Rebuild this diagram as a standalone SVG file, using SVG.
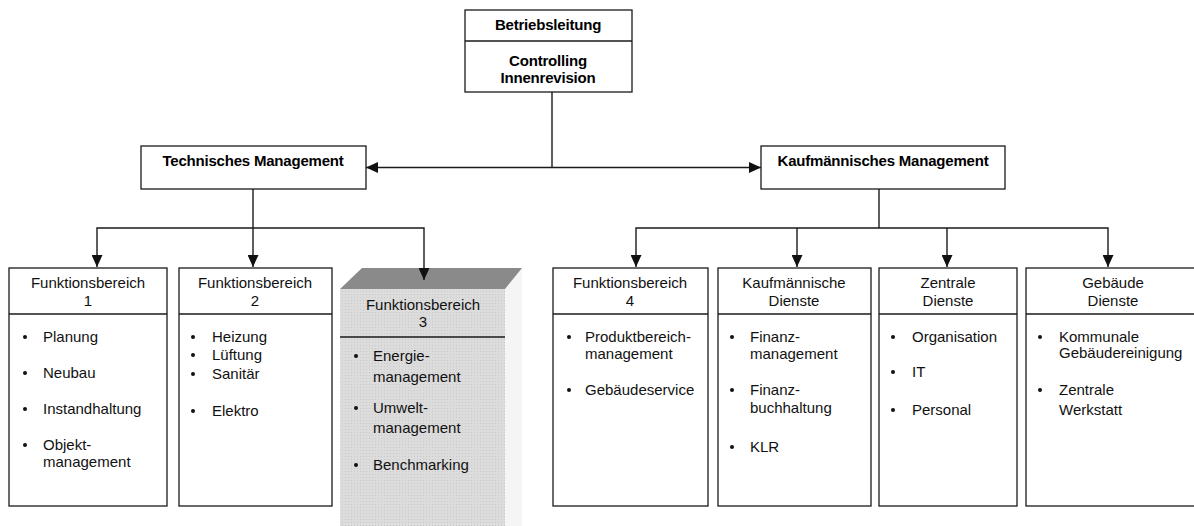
<svg xmlns="http://www.w3.org/2000/svg" width="1194" height="526" viewBox="0 0 1194 526">
<style>
  .box{fill:#fff;stroke:#1a1a1a;stroke-width:1.3}
  .div{stroke:#1a1a1a;stroke-width:1.3}
  .con{fill:none;stroke:#1a1a1a;stroke-width:1.4}
  .b{font-family:"Liberation Sans",Arial,sans-serif;font-size:15px;font-weight:bold;fill:#000;text-anchor:middle;letter-spacing:-0.2px}
  .h{font-family:"Liberation Sans",Arial,sans-serif;font-size:15px;fill:#111;text-anchor:middle}
  .t{font-family:"Liberation Sans",Arial,sans-serif;font-size:15px;fill:#111}
  .dot{fill:#111}
</style>
<defs>
  <marker id="arr" markerUnits="userSpaceOnUse" markerWidth="12" markerHeight="11" refX="12" refY="5.5" orient="auto-start-reverse">
    <path d="M0,0 L12,5.5 L0,11 Z" fill="#111"/>
  </marker>
  <pattern id="dots" width="3" height="3" patternUnits="userSpaceOnUse">
    <rect width="3" height="3" fill="#dcdcdc"/>
    <rect width="1" height="1" fill="#cacaca"/>
  </pattern>
</defs>

<g id="betriebsleitung">
  <rect class="box" x="465" y="10" width="167" height="82"/>
  <line class="div" x1="465" y1="41" x2="632" y2="41"/>
  <text class="b" x="548" y="30">Betriebsleitung</text>
  <text class="b" x="548" y="66">Controlling</text>
  <text class="b" x="548" y="83">Innenrevision</text>
</g>

<g id="technisches-management">
  <rect class="box" x="141" y="146" width="225" height="43"/>
  <text class="b" x="253" y="166">Technisches Management</text>
</g>

<g id="kaufmaennisches-management">
  <rect class="box" x="761" y="146" width="244" height="43"/>
  <text class="b" x="883" y="166">Kaufmännisches Management</text>
</g>

<g id="fb1">
  <rect class="box" x="9" y="268" width="158" height="238"/>
  <line class="div" x1="9" y1="314" x2="167" y2="314"/>
  <text class="h" x="88" y="288">Funktionsbereich</text>
  <text class="h" x="88" y="306">1</text>
  <circle class="dot" cx="25" cy="337" r="2"/><text class="t" x="43" y="342">Planung</text>
  <circle class="dot" cx="25" cy="373" r="2"/><text class="t" x="43" y="378">Neubau</text>
  <circle class="dot" cx="25" cy="409" r="2"/><text class="t" x="43" y="414">Instandhaltung</text>
  <circle class="dot" cx="25" cy="445" r="2"/><text class="t" x="43" y="450">Objekt-</text>
  <text class="t" x="43" y="467">management</text>
</g>

<g id="fb2">
  <rect class="box" x="179" y="268" width="153" height="238"/>
  <line class="div" x1="179" y1="314" x2="332" y2="314"/>
  <text class="h" x="255" y="288">Funktionsbereich</text>
  <text class="h" x="255" y="306">2</text>
  <circle class="dot" cx="193" cy="337" r="2"/><text class="t" x="212" y="342">Heizung</text>
  <circle class="dot" cx="193" cy="355" r="2"/><text class="t" x="212" y="360">Lüftung</text>
  <circle class="dot" cx="193" cy="374" r="2"/><text class="t" x="212" y="379">Sanitär</text>
  <circle class="dot" cx="193" cy="411" r="2"/><text class="t" x="212" y="416">Elektro</text>
</g>

<g id="fb3">
  <polygon points="505,289 522,268 522,526 505,526" fill="#f5f5f5"/>
  <rect x="340" y="289" width="165" height="237" fill="url(#dots)"/>
  <polygon points="340,289 362,268 522,268 505,289" fill="#8a8a8a"/>
  <line class="div" x1="340" y1="337" x2="505" y2="337"/>
  <text class="h" x="423" y="310">Funktionsbereich</text>
  <text class="h" x="423" y="327">3</text>
  <circle class="dot" cx="356" cy="356" r="2"/><text class="t" x="373" y="361">Energie-</text>
  <text class="t" x="373" y="382">management</text>
  <circle class="dot" cx="356" cy="408" r="2"/><text class="t" x="373" y="413">Umwelt-</text>
  <text class="t" x="373" y="433">management</text>
  <circle class="dot" cx="356" cy="465" r="2"/><text class="t" x="373" y="470">Benchmarking</text>
</g>

<g id="fb4">
  <rect class="box" x="553" y="268" width="155" height="238"/>
  <line class="div" x1="553" y1="314" x2="708" y2="314"/>
  <text class="h" x="630" y="288">Funktionsbereich</text>
  <text class="h" x="630" y="306">4</text>
  <circle class="dot" cx="569" cy="337" r="2"/><text class="t" x="585" y="342">Produktbereich-</text>
  <text class="t" x="585" y="359">management</text>
  <circle class="dot" cx="569" cy="390" r="2"/><text class="t" x="585" y="395">Gebäudeservice</text>
</g>

<g id="kaufmaennische-dienste">
  <rect class="box" x="718" y="268" width="153" height="238"/>
  <line class="div" x1="718" y1="314" x2="871" y2="314"/>
  <text class="h" x="794" y="288">Kaufmännische</text>
  <text class="h" x="794" y="306">Dienste</text>
  <circle class="dot" cx="732" cy="337" r="2"/><text class="t" x="750" y="342">Finanz-</text>
  <text class="t" x="750" y="359">management</text>
  <circle class="dot" cx="732" cy="390" r="2"/><text class="t" x="750" y="395">Finanz-</text>
  <text class="t" x="750" y="413">buchhaltung</text>
  <circle class="dot" cx="732" cy="447" r="2"/><text class="t" x="750" y="452">KLR</text>
</g>

<g id="zentrale-dienste">
  <rect class="box" x="879" y="268" width="138" height="238"/>
  <line class="div" x1="879" y1="314" x2="1017" y2="314"/>
  <text class="h" x="948" y="288">Zentrale</text>
  <text class="h" x="948" y="306">Dienste</text>
  <circle class="dot" cx="893" cy="337" r="2"/><text class="t" x="912" y="342">Organisation</text>
  <circle class="dot" cx="893" cy="372" r="2"/><text class="t" x="912" y="377">IT</text>
  <circle class="dot" cx="893" cy="410" r="2"/><text class="t" x="912" y="415">Personal</text>
</g>

<g id="gebaeude-dienste">
  <rect class="box" x="1026" y="268" width="176" height="238"/>
  <line class="div" x1="1026" y1="314" x2="1202" y2="314"/>
  <text class="h" x="1113" y="288">Gebäude</text>
  <text class="h" x="1113" y="306">Dienste</text>
  <circle class="dot" cx="1040" cy="337" r="2"/><text class="t" x="1059" y="342">Kommunale</text>
  <text class="t" x="1059" y="358">Gebäudereinigung</text>
  <circle class="dot" cx="1040" cy="390" r="2"/><text class="t" x="1059" y="395">Zentrale</text>
  <text class="t" x="1059" y="415">Werkstatt</text>
</g>

<g id="connectors">
  <line class="con" x1="552" y1="92" x2="552" y2="167.5"/>
  <line class="con" x1="366" y1="167.5" x2="761" y2="167.5" marker-start="url(#arr)" marker-end="url(#arr)"/>
  <line class="con" x1="253" y1="189" x2="253" y2="267" marker-end="url(#arr)"/>
  <polyline class="con" points="97,267 97,228 424,228 424,280" marker-start="url(#arr)" marker-end="url(#arr)"/>
  <line class="con" x1="879" y1="189" x2="879" y2="228"/>
  <polyline class="con" points="636,267 636,228 1108,228 1108,267" marker-start="url(#arr)" marker-end="url(#arr)"/>
  <line class="con" x1="797" y1="228" x2="797" y2="267" marker-end="url(#arr)"/>
  <line class="con" x1="947" y1="228" x2="947" y2="267" marker-end="url(#arr)"/>
</g>
</svg>
